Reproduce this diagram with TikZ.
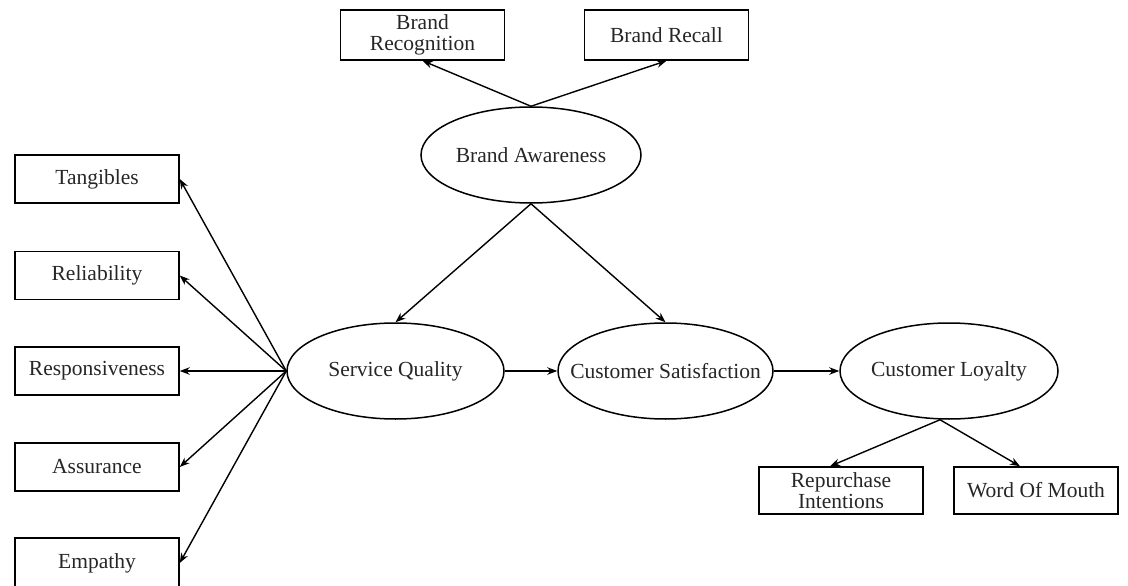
\documentclass[tikz,border=0pt]{standalone}
\usepackage{fontspec}
\setmainfont{Liberation Serif}
\usetikzlibrary{arrows.meta,shapes.geometric}
\begin{document}
\begin{tikzpicture}[x=1pt,y=-1pt,
  every node/.style={font=\fontsize{21.5}{21}\selectfont, text=black!85},
  box/.style={draw, line width=1.5pt, rectangle, minimum width=164pt, minimum height=48pt, inner sep=0pt, align=center},
  oval/.style={draw, line width=1.5pt, ellipse, minimum width=218pt, minimum height=96pt, inner sep=0pt},
  link/.style={line width=1.4pt, -{Stealth[length=10pt,width=7.5pt]}}
]
\useasboundingbox (0,0) rectangle (1128,586);

% brand awareness and its indicators
\node[box, minimum height=50pt] (brec) at (422.5,35) {Brand\\Recognition};
\node[box, minimum height=50pt] (brcl) at (666.5,35) {Brand Recall};
\node[oval, minimum width=220pt, label=center:{Brand Awareness}] (ba) at (531,155) {};

% service quality dimensions
\node[box] (tan) at (97,179) {Tangibles};
\node[box] (rel) at (97,275.5) {Reliability};
\node[box] (res) at (97,371) {Responsiveness};
\node[box] (ass) at (97,467) {Assurance};
\node[box, minimum height=50pt] (emp) at (97,563) {Empathy};

% main constructs
\node[oval, minimum width=217pt, label=center:{Service Quality}] (sq) at (395.5,371) {};
\node[oval, minimum width=215pt, label=center:{Customer Satisfaction}] (cs) at (665.5,371) {};
\node[oval, label=center:{Customer Loyalty}] (cl) at (949,371) {};

% loyalty outcomes
\node[box, minimum height=47pt] (rep) at (841,490.5) {Repurchase\\Intentions};
\node[box, minimum height=47pt] (wom) at (1036,490.5) {Word Of Mouth};

% paths
\draw[link] (ba.north) -- (brec.south);
\draw[link] (ba.north) -- (brcl.south);
\draw[link] (ba.south) -- (sq.north);
\draw[link] (ba.south) -- (cs.north);
\foreach \n in {tan,rel,res,ass,emp}
  \draw[link] (sq.west) -- (\n.east);
\draw[link] (sq.east) -- (cs.west);
\draw[link] (cs.east) -- (cl.west);
\draw[link] ([xshift=-9pt]cl.south) -- ([xshift=-11pt]rep.north);
\draw[link] ([xshift=-9pt]cl.south) -- ([xshift=-16pt]wom.north);
\end{tikzpicture}
\end{document}
